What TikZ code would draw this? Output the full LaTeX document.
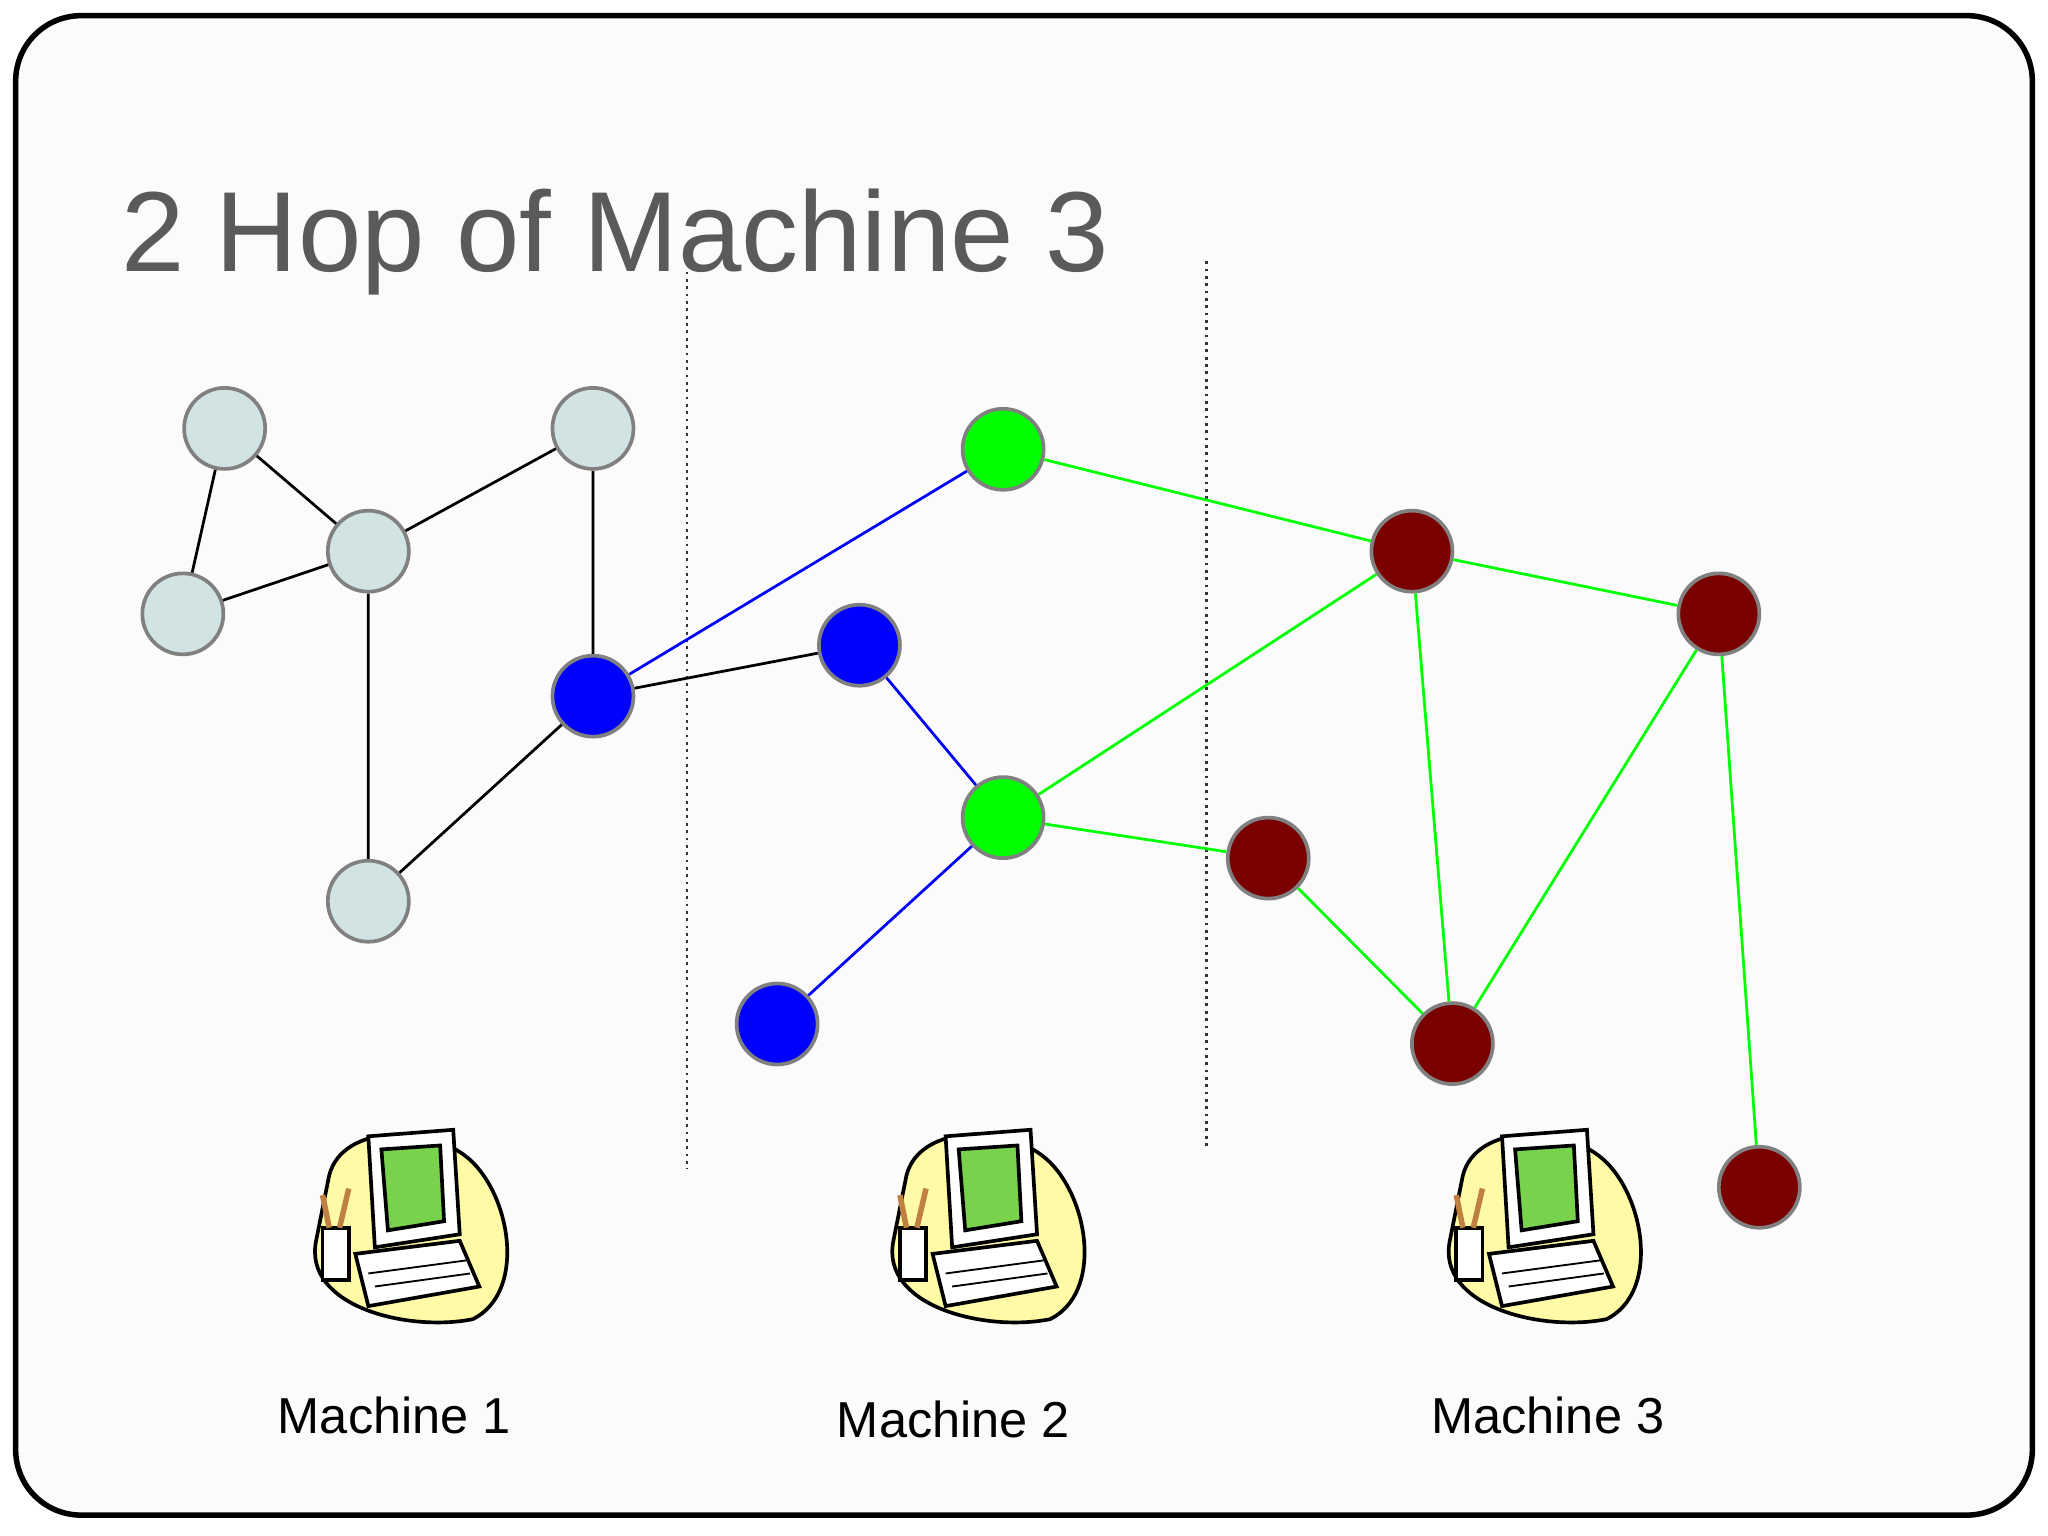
\documentclass[tikz,border=0pt]{standalone}
\usepackage{fontspec}
\setmainfont{Liberation Sans}
\usetikzlibrary{positioning}
\definecolor{paleNode}{RGB}{210,227,227}
\definecolor{darkRed}{RGB}{122,0,0}
\definecolor{titleGray}{RGB}{90,90,90}
\tikzstyle{vertex} = [circle, minimum size = .62cm, inner sep = 0pt, draw = gray, thick]
\tikzstyle{greyVertex} = [vertex, fill = paleNode]
\tikzstyle{blueVertex} = [vertex, fill = blue]
\tikzstyle{greenVertex} = [vertex, fill = green]
\tikzstyle{redVertex} = [vertex, fill = darkRed]
\tikzstyle{blackEdge} = [color = black, semithick]
\tikzstyle{blueEdge} = [color = blue, semithick]
\tikzstyle{greenEdge} = [color = green, semithick]
\tikzstyle{cut} = [densely dotted, semithick, color = black!80]
\tikzstyle{machineText} = [font = \fontsize{11}{13}\selectfont]
\newcommand{\computerIcon}[2]{
  \begin{scope}[shift = {(#1,#2)}]
    \fill [yellow!35, draw = black, thick] (-60,-40) .. controls (-50,-80) and (20,-80) .. (50,-50)
      .. controls (80,-20) and (90,50) .. (50,70) .. controls (0,80) and (-80,60) .. (-70,10) -- cycle;
    \filldraw [fill = white, draw = black, thick] (-30,-70) -- (35,-75) -- (40,5) -- (-25,15) -- cycle;
    \filldraw [fill = green!50!olive!70, draw = black, thick] (-20,-60) -- (25,-63) -- (28,-5) -- (-15,2) -- cycle;
    \filldraw [fill = white, draw = black, thick] (-40,20) -- (40,10) -- (55,45) -- (-30,60) -- cycle;
    \draw [black] (-30,35) -- (45,25) (-25,45) -- (48,35);
    \filldraw [fill = white, draw = black, thick] (-65,0) rectangle (-45,40);
    \draw [brown, very thick] (-60,0) -- (-65,-25) (-52,0) -- (-45,-30);
  \end{scope}
}
\begin{document}
\begin{tikzpicture}[x = .01cm, y = -.01cm]
  \useasboundingbox (0,0) rectangle (1568,1176);
  \draw [very thick, rounded corners = .5cm, fill = gray!3] (12,12) rectangle (1556,1160);
  \node [anchor = base west, inner sep = 0pt, text = titleGray, font = \fontsize{24.8}{28}\selectfont] (title) at (92,208) {2 Hop of Machine 3};
  % partition lines
  \draw [cut] (526,208) -- (526,895);
  \draw [cut] (924,200) -- (924,880);
  % vertices
  \node [greyVertex] (a) at (172,328) {};
  \node [greyVertex] (b) at (282,422) {};
  \node [greyVertex] (c) at (140,470) {};
  \node [greyVertex] (d) at (454,328) {};
  \node [greyVertex] (e) at (282,690) {};
  \node [blueVertex] (f) at (454,533) {};
  \node [blueVertex] (g) at (658,494) {};
  \node [blueVertex] (h) at (595,784) {};
  \node [greenVertex] (i) at (768,344) {};
  \node [greenVertex] (j) at (768,626) {};
  \node [redVertex] (k) at (1081,422) {};
  \node [redVertex] (l) at (1316,470) {};
  \node [redVertex] (m) at (971,657) {};
  \node [redVertex] (n) at (1112,799) {};
  \node [redVertex] (o) at (1347,909) {};
  % edges
  \draw [blackEdge] (a) -- (b) (a) -- (c) (c) -- (b) (b) -- (d) (d) -- (f) (b) -- (e) (e) -- (f) (f) -- (g);
  \draw [blueEdge] (f) -- (i) (g) -- (j) (j) -- (h);
  \draw [greenEdge] (i) -- (k) (k) -- (l) (k) -- (j) (j) -- (m) (m) -- (n) (k) -- (n) (l) -- (n) (l) -- (o);
  % machines
  \computerIcon{312}{940}
  \computerIcon{754}{940}
  \computerIcon{1180}{940}
  \node [machineText] (machine1) at (302,1084) {Machine 1};
  \node [machineText] (machine2) at (730,1087) {Machine 2};
  \node [machineText] (machine3) at (1185,1084) {Machine 3};
\end{tikzpicture}
\end{document}
